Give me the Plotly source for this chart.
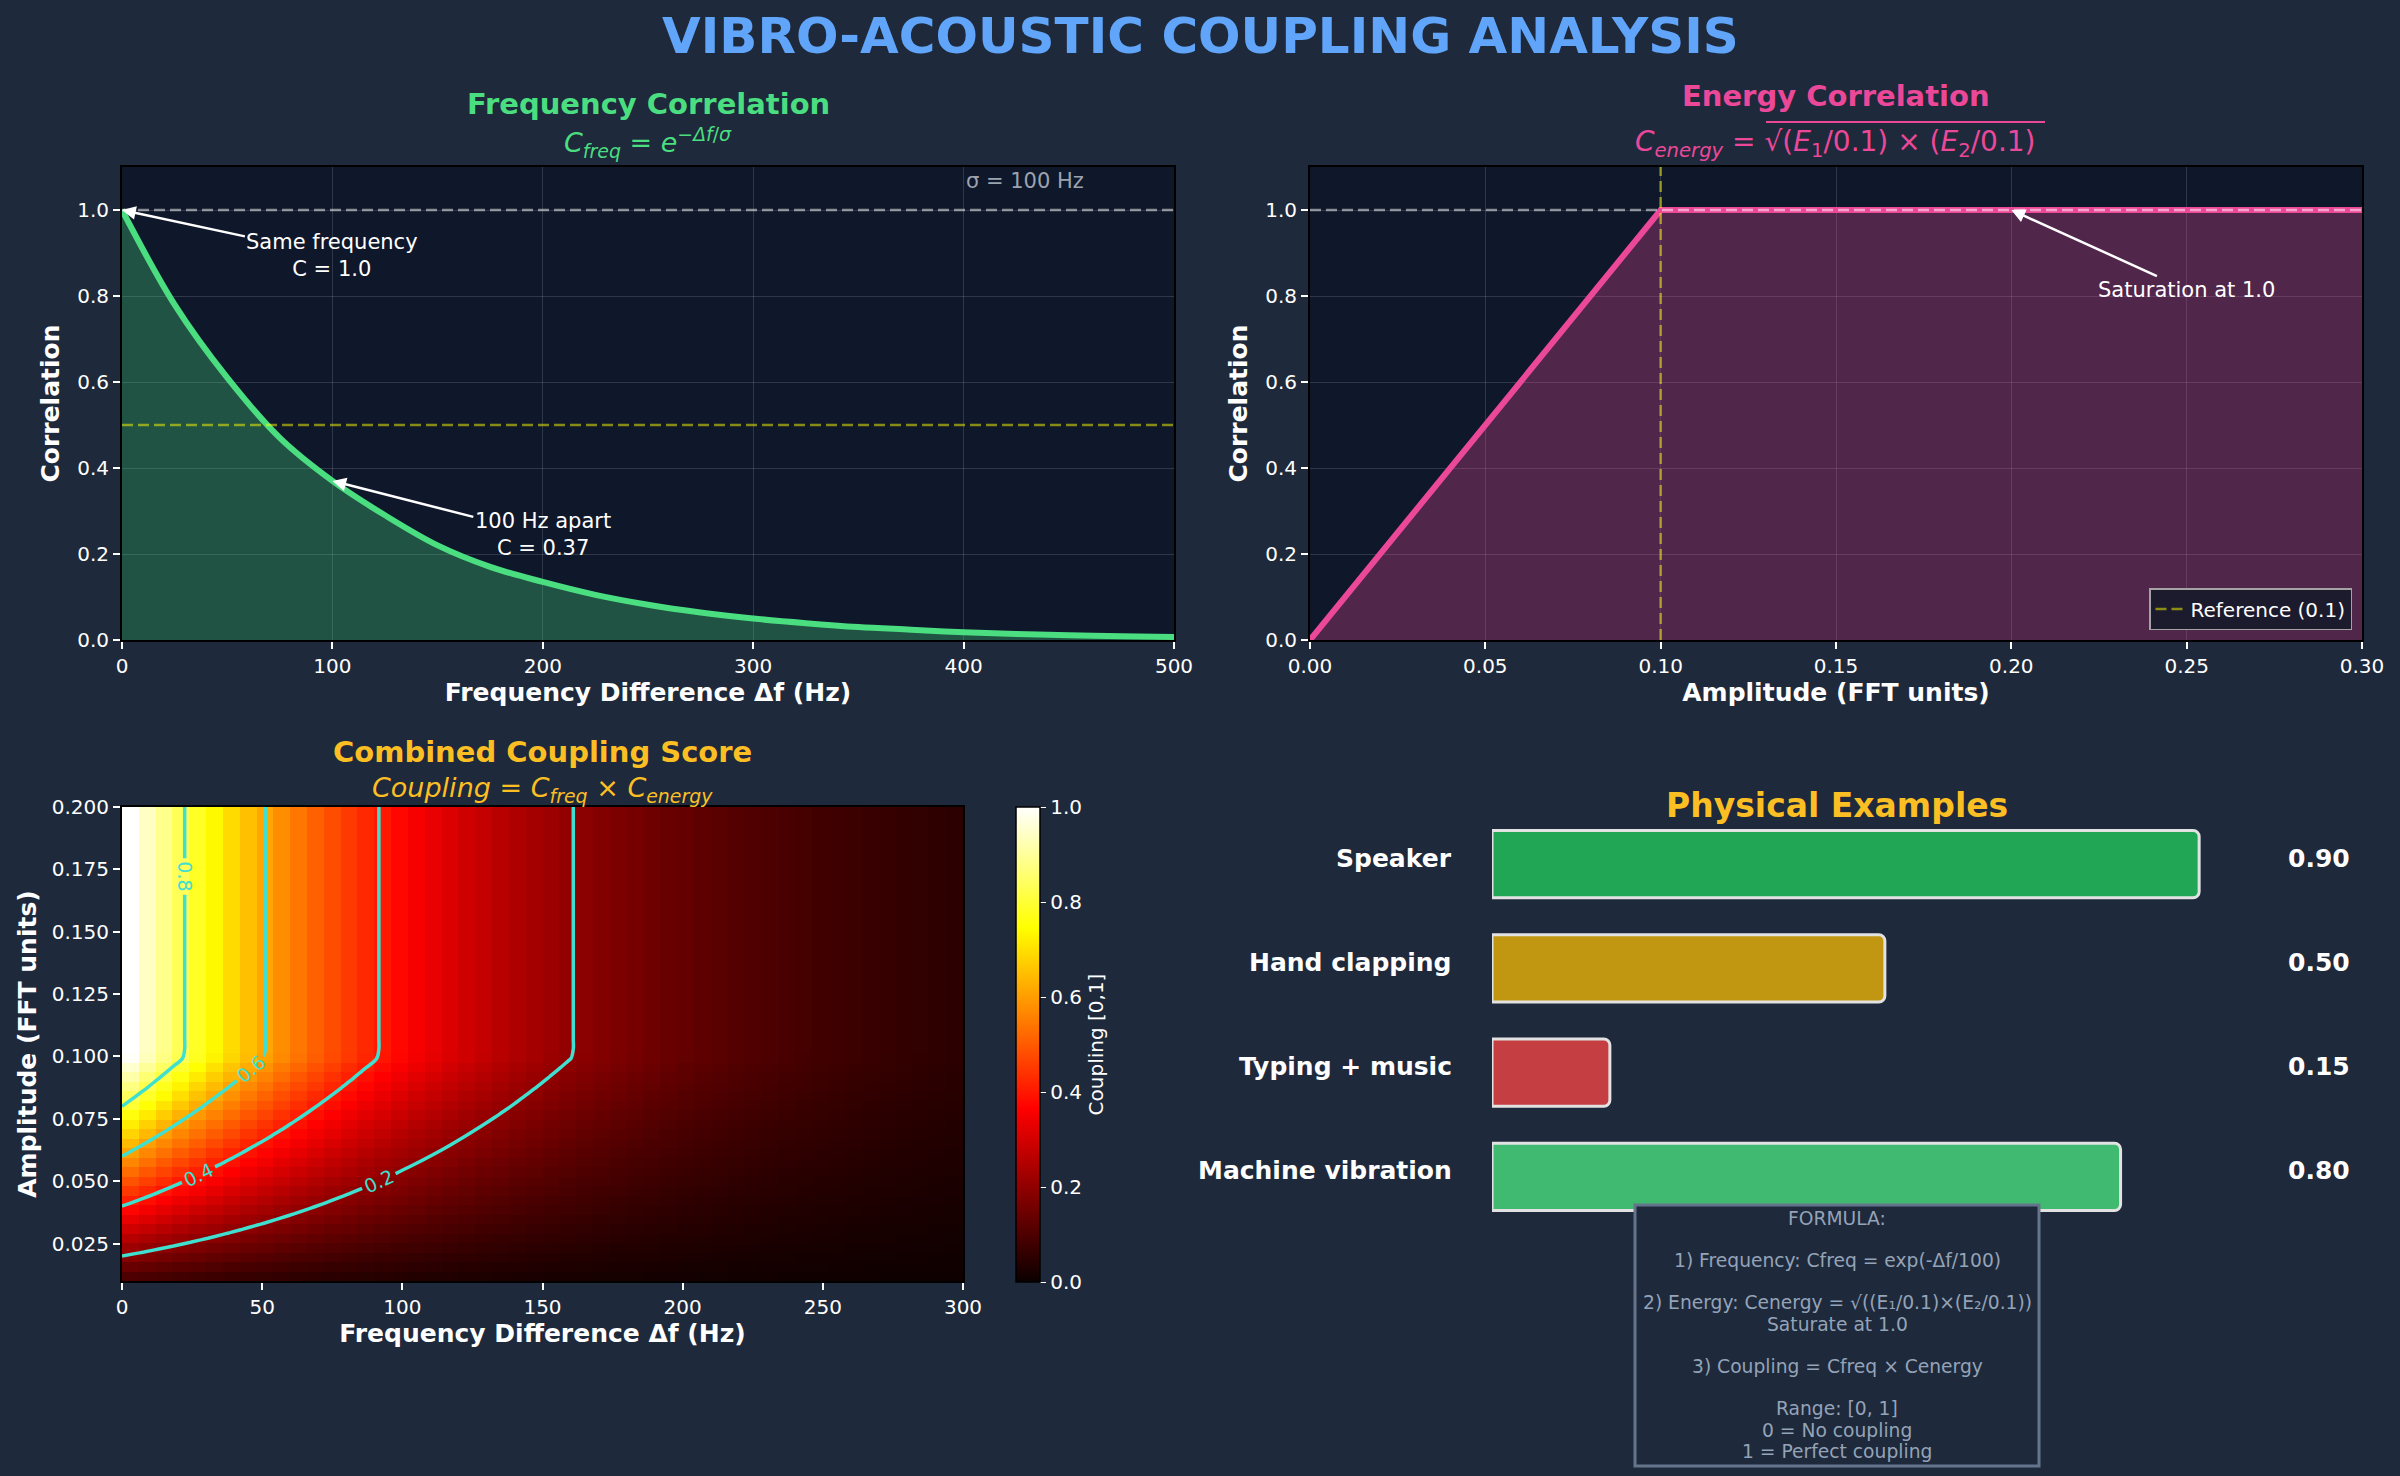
import numpy as np
import plotly.graph_objects as go

# ---------------- data ----------------
freq_hz = [0, 25, 50, 75, 100, 125, 150, 175, 200, 225, 250, 275, 300, 325, 350, 375, 400, 425, 450, 475, 500]
freq_corr = [1.00, 0.78, 0.61, 0.47, 0.37, 0.29, 0.22, 0.17, 0.135, 0.105, 0.082, 0.064, 0.050, 0.039,
             0.030, 0.024, 0.018, 0.014, 0.011, 0.009, 0.007]

amp_pts = [0.0, 0.1, 0.3]
energy_corr = [0.0, 1.0, 1.0]
energy_ref = 0.1
sigma_hz = 100

hm_freq_range = [0, 300]
hm_amp_range = [0.01, 0.2]
hm_n = 50
contour_levels = [0.2, 0.4, 0.6, 0.8]

examples = ["Speaker", "Hand clapping", "Typing + music", "Machine vibration"]
example_scores = [0.90, 0.50, 0.15, 0.80]
example_colors = ["rgba(34,197,94,0.8)", "rgba(234,179,8,0.8)", "rgba(239,68,68,0.8)", "rgba(74,222,128,0.8)"]

formula_lines = ["FORMULA:", "", "1) Frequency: Cfreq = exp(-Δf/100)", "",
                 "2) Energy: Cenergy = √((E₁/0.1)×(E₂/0.1))", "Saturate at 1.0", "",
                 "3) Coupling = Cfreq × Cenergy", "", "Range: [0, 1]", "0 = No coupling", "1 = Perfect coupling"]

# heatmap surface (Coupling = Cfreq x Cenergy)
hm_f = np.linspace(hm_freq_range[0], hm_freq_range[1], hm_n)
hm_a = np.linspace(hm_amp_range[0], hm_amp_range[1], hm_n)
F, A = np.meshgrid(hm_f, hm_a)
Z = np.exp(-F / sigma_hz) * np.minimum(1.0, np.sqrt((A / energy_ref) * (A / energy_ref)))
hm_f_edges = np.linspace(hm_freq_range[0], hm_freq_range[1], hm_n + 1)
hm_a_edges = np.linspace(hm_amp_range[0], hm_amp_range[1], hm_n + 1)

# ---------------- style ----------------
FONT = "DejaVu Sans"
BG = "#1e293b"
AX_BG = "#0f172a"
GRID = "rgba(255,255,255,0.14)"
W, H = 2400, 1476

def px_x(p):
    return p / W

def px_y(p):
    return 1 - p / H

fig = go.Figure()

# ---- top-left: frequency correlation
fig.add_trace(go.Scatter(x=freq_hz, y=freq_corr, mode="lines", line=dict(color="#4ade80", width=6, shape="spline"),
                         fill="tozeroy", fillcolor="rgba(74,222,128,0.3)", xaxis="x", yaxis="y", showlegend=False,
                         hoverinfo="skip"))

# ---- top-right: energy correlation
fig.add_trace(go.Scatter(x=amp_pts, y=energy_corr, mode="lines", line=dict(color="#ec4899", width=6),
                         fill="tozeroy", fillcolor="rgba(236,72,153,0.3)", xaxis="x2", yaxis="y2", showlegend=False,
                         hoverinfo="skip"))
fig.add_trace(go.Scatter(x=[energy_ref, energy_ref], y=[0, 1.1], mode="lines",
                         line=dict(color="rgba(255,255,0,0.5)", width=2.5, dash="11px,5px"),
                         name="Reference (0.1)", xaxis="x2", yaxis="y2", showlegend=True))

# ---- heatmap
colorscale = [[0.0, "#0b0000"], [0.365, "#ff0000"], [0.746, "#ffff00"], [1.0, "#ffffff"]]
fig.add_trace(go.Heatmap(x=hm_f_edges, y=hm_a_edges, z=Z, zmin=0, zmax=1, colorscale=colorscale,
                         xaxis="x3", yaxis="y3", hoverinfo="skip",
                         colorbar=dict(x=px_x(1016), xanchor="left", xpad=0, ypad=0, thickness=24,
                                       len=475 / H, lenmode="fraction",
                                       y=(px_y(1282) + px_y(807)) / 2, yanchor="middle",
                                       outlinecolor="black", outlinewidth=1.5,
                                       tickvals=[0, 0.2, 0.4, 0.6, 0.8, 1.0], ticktext=["0.0", "0.2", "0.4", "0.6", "0.8", "1.0"],
                                       ticks="outside", tickcolor="white", ticklen=6,
                                       tickfont=dict(family=FONT, size=20, color="white"),
                                       title=dict(text="Coupling [0,1]", side="right",
                                                  font=dict(family=FONT, size=20, color="white")))))
fig.add_trace(go.Contour(x=hm_f, y=hm_a, z=Z, xaxis="x3", yaxis="y3", showscale=False, showlegend=False,
                         contours=dict(start=contour_levels[0], end=contour_levels[-1], size=0.2, coloring="none",
                                       showlabels=True, labelfont=dict(family=FONT, size=19, color="#40e0d0")),
                         line=dict(color="#40e0d0", width=3.5), hoverinfo="skip"))

# ---- bars
fig.add_trace(go.Bar(y=examples, x=example_scores, orientation="h", width=0.645,
                     marker=dict(color=example_colors, line=dict(color="#e2e2e2", width=3), cornerradius=6),
                     xaxis="x4", yaxis="y4", showlegend=False, hoverinfo="skip"))

axis_common = dict(showline=True, linecolor="black", linewidth=2, mirror=True, ticks="outside", tickcolor="white",
                   ticklen=7, tickwidth=1.5, tickfont=dict(family=FONT, size=20, color="white"), zeroline=False,
                   automargin=False)
title_font = dict(family=FONT, size=25, color="white")

tl_x = [px_x(122), px_x(1174)]
tr_x = [px_x(1310), px_x(2362)]
top_y = [px_y(640), px_y(167)]
hm_x = [px_x(122), px_x(963)]
hm_y = [px_y(1281), px_y(807)]

fig.update_layout(
    width=W, height=H, paper_bgcolor=BG, plot_bgcolor=BG, margin=dict(l=0, r=0, t=0, b=0, autoexpand=False),
    font=dict(family=FONT, color="white"),
    xaxis=dict(domain=tl_x, range=[0, 500], dtick=100, showgrid=True, gridcolor=GRID, anchor="y",
               title=dict(text="<b>Frequency Difference Δf (Hz)</b>", font=title_font, standoff=6), **axis_common),
    yaxis=dict(domain=top_y, range=[0, 1.1], tickvals=[0, 0.2, 0.4, 0.6, 0.8, 1.0], tickformat=".1f",
               showgrid=True, gridcolor=GRID, anchor="x",
               title=dict(text="<b>Correlation</b>", font=title_font, standoff=10), **axis_common),
    xaxis2=dict(domain=tr_x, range=[0, 0.3], dtick=0.05, tickformat=".2f", showgrid=True, gridcolor=GRID, anchor="y2",
                title=dict(text="<b>Amplitude (FFT units)</b>", font=title_font, standoff=6), **axis_common),
    yaxis2=dict(domain=top_y, range=[0, 1.1], tickvals=[0, 0.2, 0.4, 0.6, 0.8, 1.0], tickformat=".1f",
                showgrid=True, gridcolor=GRID, anchor="x2",
                title=dict(text="<b>Correlation</b>", font=title_font, standoff=10), **axis_common),
    xaxis3=dict(domain=hm_x, range=hm_freq_range, dtick=50, showgrid=False, anchor="y3",
                title=dict(text="<b>Frequency Difference Δf (Hz)</b>", font=title_font, standoff=6), **axis_common),
    yaxis3=dict(domain=hm_y, range=hm_amp_range, tick0=0, dtick=0.025, tickformat=".3f", showgrid=False, anchor="x3",
                title=dict(text="<b>Amplitude (FFT units)</b>", font=title_font, standoff=8), **axis_common),
    xaxis4=dict(domain=[px_x(1492), px_x(2372)], range=[0, 1.12], visible=False, anchor="y4"),
    yaxis4=dict(domain=[px_y(1229), px_y(812)], autorange="reversed", visible=False, anchor="x4", type="category"),
    legend=dict(x=px_x(2352), y=px_y(630), xanchor="right", yanchor="bottom", bgcolor="#1b1b2d",
                bordercolor="#a3a3a3", borderwidth=1.5, font=dict(family=FONT, size=20, color="white")),
    showlegend=True,
)

# axes backgrounds
for xr, yr in [("x domain", "y domain"), ("x2 domain", "y2 domain")]:
    fig.add_shape(type="rect", xref=xr, yref=yr, x0=0, x1=1, y0=0, y1=1, fillcolor=AX_BG,
                  line=dict(width=0), layer="below")

# reference lines
fig.add_shape(type="line", xref="x domain", yref="y", x0=0, x1=1, y0=1.0, y1=1.0,
              line=dict(color="rgba(255,255,255,0.5)", width=2.5, dash="11px,5px"))
fig.add_shape(type="line", xref="x domain", yref="y", x0=0, x1=1, y0=0.5, y1=0.5,
              line=dict(color="rgba(255,255,0,0.5)", width=2.5, dash="11px,5px"))
fig.add_shape(type="line", xref="x2 domain", yref="y2", x0=0, x1=1, y0=1.0, y1=1.0,
              line=dict(color="rgba(255,255,255,0.5)", width=2.5, dash="11px,5px"))

ann = []
# main title
ann.append(dict(text="<b>VIBRO-ACOUSTIC COUPLING ANALYSIS</b>", x=0.5, y=px_y(36), xref="paper", yref="paper",
                xanchor="center", showarrow=False, font=dict(family=FONT, size=50, color="#60a5fa"), yanchor="middle"))
# subplot titles
def title2(xc, y1, y2, t1, t2, color, s2=27):
    ann.append(dict(text="<b>" + t1 + "</b>", x=xc, y=px_y(y1), xref="paper", yref="paper", showarrow=False,
                    xanchor="center", font=dict(family=FONT, size=29, color=color), yanchor="middle"))
    ann.append(dict(text=t2, x=xc, y=px_y(y2), xref="paper", yref="paper", showarrow=False,
                    xanchor="center", font=dict(family=FONT, size=s2, color=color), yanchor="middle"))

title2((tl_x[0] + tl_x[1]) / 2, 104, 142, "Frequency Correlation",
       "<i>C<sub>freq</sub></i> = <i>e</i><sup>−<i>Δf</i>/<i>σ</i></sup>", "#4ade80")
title2((tr_x[0] + tr_x[1]) / 2, 96, 144, "Energy Correlation",
       "<i>C<sub>energy</sub></i> = √(<i>E</i><sub>1</sub>/0.1) × (<i>E</i><sub>2</sub>/0.1)", "#ec4899", 28)
title2((hm_x[0] + hm_x[1]) / 2, 752, 789, "Combined Coupling Score",
       "<i>Coupling</i> = <i>C<sub>freq</sub></i> × <i>C<sub>energy</sub></i>", "#fbbf24")
# radical overline
fig.add_shape(type="line", xref="paper", yref="paper", x0=px_x(1766), x1=px_x(2045), y0=px_y(122), y1=px_y(122),
              line=dict(color="#ec4899", width=2))

ann.append(dict(text="<b>Physical Examples</b>", x=px_x(1837), y=px_y(805), xref="paper", yref="paper",
                xanchor="center", showarrow=False, font=dict(family=FONT, size=33, color="#fbbf24"), yanchor="middle"))

# arrows
arrow = dict(showarrow=True, arrowhead=2, arrowsize=1.1, arrowwidth=2.5, arrowcolor="white",
             font=dict(family=FONT, size=21, color="white"), align="center")
ann.append(dict(text="Same frequency<br>C = 1.0", x=0, y=1.0, ax=100, ay=0.895, xref="x", yref="y",
                axref="x", ayref="y", **arrow))
ann.append(dict(text="100 Hz apart<br>C = 0.37", x=100, y=0.37, ax=200, ay=0.245, xref="x", yref="y",
                axref="x", ayref="y", **arrow))
ann.append(dict(text="Saturation at 1.0", x=0.2, y=1.0, ax=0.25, ay=0.815, xref="x2", yref="y2",
                axref="x2", ayref="y2", **arrow))
ann.append(dict(text="σ = 100 Hz", x=0.8, y=0.97, xref="x domain", yref="y domain", xanchor="left", yanchor="middle",
                showarrow=False, font=dict(family=FONT, size=21, color="#9ca3af")))

# bar labels and values
for name, val in zip(examples, example_scores):
    ann.append(dict(text="<b>" + name + "</b>", x=px_x(1454), y=name, xref="paper", yref="y4", xanchor="right",
                    yshift=6, showarrow=False, font=dict(family=FONT, size=25, color="white")))
    ann.append(dict(text="<b>%.2f</b>" % val, x=1.01, y=name, xref="x4", yref="y4", xanchor="left",
                    yshift=6, showarrow=False, font=dict(family=FONT, size=25, color="white")))

# formula box
fig.add_shape(type="rect", xref="paper", yref="paper", x0=px_x(1635), x1=px_x(2039), y0=px_y(1466), y1=px_y(1205),
              fillcolor=BG, line=dict(color="#64748b", width=3), layer="above")
for i, line in enumerate(formula_lines):
    if not line:
        continue
    ann.append(dict(text=line, x=px_x(1837), y=px_y(1218 + 21.2 * i), xref="paper", yref="paper",
                    xanchor="center", yanchor="middle", showarrow=False,
                    font=dict(family=FONT, size=18.7, color="#94a3b8")))

fig.update_layout(annotations=ann)
fig.write_html("out.html")
